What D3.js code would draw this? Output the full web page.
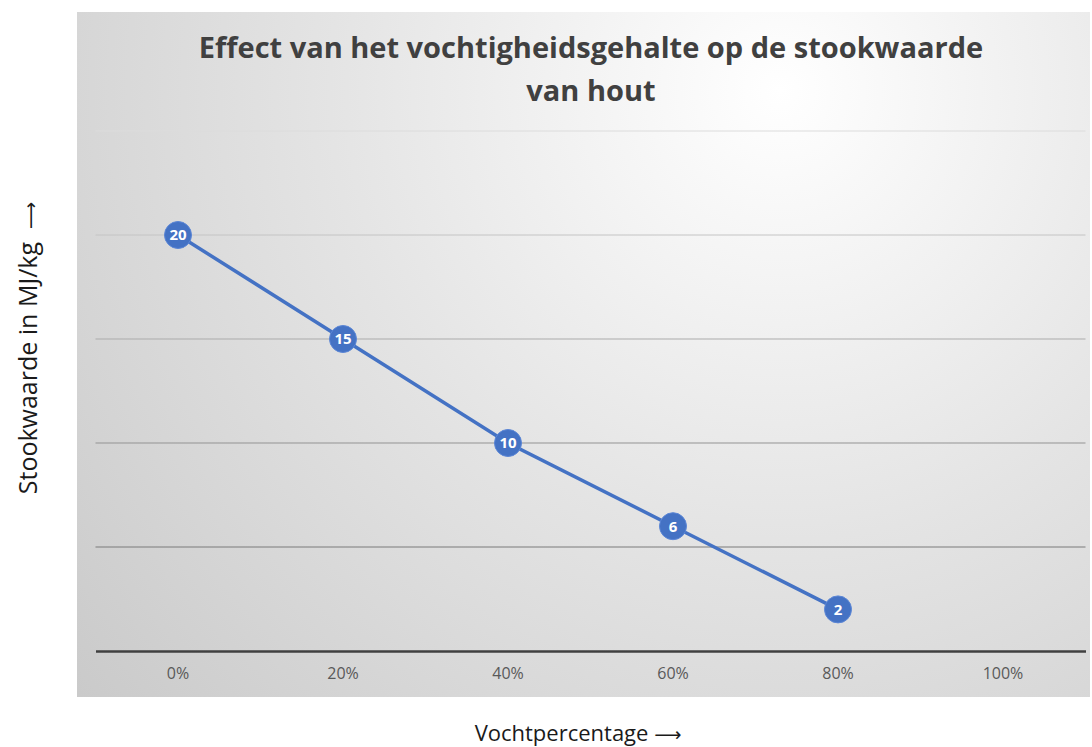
<!DOCTYPE html>
<html>
<head>
<meta charset="utf-8">
<script src="https://cdn.jsdelivr.net/npm/d3@7"></script>
<style>
  body { margin: 0; background: #fff; }
  svg { display: block; font-family: "Open Sans", "Noto Sans", sans-serif; }
</style>
</head>
<body>
<div id="chart"></div>
<script>
var categories = ["0%", "20%", "40%", "60%", "80%", "100%"];
var values = [20, 15, 10, 6, 2];
var yTicks = [0, 5, 10, 15, 20, 25];
var titleLines = ["Effect van het vochtigheidsgehalte op de stookwaarde", "van hout"];

var width = 1092, height = 747;
var svg = d3.select("#chart").append("svg")
    .attr("width", width)
    .attr("height", height);

// background gradient of the chart box
var defs = svg.append("defs");
var grad = defs.append("radialGradient")
    .attr("id", "bg")
    .attr("gradientUnits", "userSpaceOnUse")
    .attr("cx", 780).attr("cy", 90).attr("r", 1000);
grad.append("stop").attr("offset", "0%").attr("stop-color", "#ffffff");
grad.append("stop").attr("offset", "45%").attr("stop-color", "#e4e4e4");
grad.append("stop").attr("offset", "100%").attr("stop-color", "#c6c6c6");

svg.append("rect")
    .attr("x", 77).attr("y", 12)
    .attr("width", 1013).attr("height", 685)
    .attr("fill", "url(#bg)");

var x = d3.scaleBand()
    .domain(categories)
    .range([95.5, 1085.5]);

var y = d3.scaleLinear()
    .domain([0, 25])
    .range([651, 131]);

// gridlines, darker towards the bottom
var gridColor = d3.scaleLinear().domain([5, 25]).range(["#7a7a7a", "#dcdcdc"]);
svg.append("g")
    .selectAll("line")
    .data(yTicks.filter(function(d) { return d > 0; }))
    .enter().append("line")
    .attr("x1", x.range()[0]).attr("x2", x.range()[1])
    .attr("y1", function(d) { return y(d); })
    .attr("y2", function(d) { return y(d); })
    .attr("stroke", function(d) { return gridColor(d); })
    .attr("stroke-width", 1);

// x axis
var xAxis = svg.append("g")
    .attr("transform", "translate(0," + y(0) + ")")
    .call(d3.axisBottom(x).tickSize(0).tickPadding(17));
xAxis.attr("font-size", null).attr("font-family", null);
xAxis.select(".domain").attr("stroke", "#404040").attr("stroke-width", 2.5);
xAxis.selectAll("text")
    .attr("fill", "#595959")
    .style("font-size", "16px");

// line
var line = d3.line()
    .x(function(d, i) { return x(categories[i]) + x.bandwidth() / 2; })
    .y(function(d) { return y(d); });

svg.append("path")
    .datum(values)
    .attr("d", line)
    .attr("fill", "none")
    .attr("stroke", "#4472c4")
    .attr("stroke-width", 3.5);

var pts = svg.append("g")
    .selectAll("g")
    .data(values)
    .enter().append("g")
    .attr("transform", function(d, i) {
        return "translate(" + (x(categories[i]) + x.bandwidth() / 2) + "," + y(d) + ")";
    });

pts.append("circle")
    .attr("r", 13.5)
    .attr("fill", "#4472c4")
    .attr("stroke", "#5b86d6")
    .attr("stroke-width", 1);

pts.append("text")
    .attr("text-anchor", "middle")
    .attr("dy", "0.36em")
    .attr("fill", "#fff")
    .style("font-size", "15px")
    .style("font-weight", "bold")
    .text(function(d) { return d; });

// title
svg.append("g")
    .selectAll("text")
    .data(titleLines)
    .enter().append("text")
    .attr("x", 591)
    .attr("y", function(d, i) { return 58 + i * 43; })
    .attr("text-anchor", "middle")
    .attr("fill", "#404040")
    .style("font-size", "29px")
    .style("font-weight", "bold")
    .text(function(d) { return d; });

// axis titles
var yTitle = svg.append("text")
    .attr("transform", "translate(37,348) rotate(-90)")
    .attr("text-anchor", "middle")
    .attr("fill", "#1a1a1a")
    .style("font-size", "25px")
    .style("white-space", "pre")
    .text("Stookwaarde in MJ/kg  ");
yTitle.append("tspan")
    .style("font-family", "'DejaVu Sans', sans-serif")
    .style("font-size", "19px")
    .text("\u27F6");

var xTitle = svg.append("text")
    .attr("x", 578)
    .attr("y", 741)
    .attr("text-anchor", "middle")
    .attr("fill", "#1a1a1a")
    .style("font-size", "22px")
    .style("white-space", "pre")
    .text("Vochtpercentage ");
xTitle.append("tspan")
    .style("font-family", "'DejaVu Sans', sans-serif")
    .style("font-size", "19px")
    .text("\u27F6");
</script>
</body>
</html>
